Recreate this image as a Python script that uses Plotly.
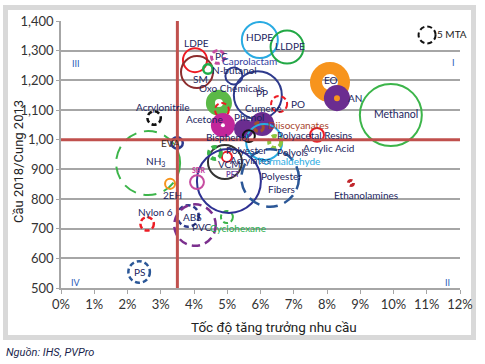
import math
import plotly.graph_objects as go

# ---------------- data ----------------
names = ["LDPE", "SM", "PC", "N-butanol", "Caprolactam", "HDPE", "LLDPE", "PP",
         "Oxo Chemicals", "Acetone", "Bisphenol", "Phenol", "MDI", "Diisocyanates",
         "PO", "Formaldehyde", "Cumene", "Polyols", "Acrylic Acid", "EO", "AN",
         "Methanol", "Acrylonitrile", "NH3", "EVA", "2EH", "Nylon 6", "ABS", "PVC",
         "Cyclohexane", "PS", "Polyester", "VCM", "Acrylates", "PET",
         "Polyester Fibers", "SBR", "Ethanolamines", "5 MTA"]
growth = [4.03, 4.09, 4.72, 4.42, 5.20, 5.98, 6.80, 5.92,
          4.75, 4.84, 4.87, 5.50, 6.05, 5.95,
          6.56, 6.11, 5.65, 6.44, 7.70, 8.09, 8.30,
          9.92, 2.80, 2.62, 3.49, 3.28, 2.59, 3.82, 4.03,
          4.99, 2.35, 4.93, 4.99, 4.63, 5.05,
          6.29, 4.09, 8.72, 11.01]
ratio = [1268, 1228, 1279, 1238, 1215, 1336, 1312, 1150,
         1124, 1100, 1049, 1036, 1053, 1043,
         1120, 992, 1012, 992, 1016, 1194, 1140,
         1083, 1073, 921, 989, 851, 716, 743, 712,
         739, 554, 925, 942, 955, 861,
         871, 857, 854, 1353]
capacity = [9.4, 16.0, 3.5, 2.0, 5.0, 20.0, 17.0, 34.6,
            9.4, 3.5, 8.0, 5.5, 8.0, 2.0,
            4.5, 20.0, 2.7, 3.5, 3.5, 22.2, 9.4,
            56.7, 3.5, 60.3, 2.7, 2.0, 3.5, 8.0, 26.8,
            2.7, 8.0, 17.9, 2.0, 3.5, 60.3,
            49.9, 3.5, 0.9, 5.0]

x_ticks = list(range(0, 13))
x_ticktext = [f"{v}%" for v in x_ticks]
y_ticks = [500, 600, 700, 800, 900, 1000, 1100, 1200, 1300, 1400]
y_ticktext = ["500", "600", "700", "800", "900", "1,00", "1,100", "1,200", "1,300", "1,400"]

# ---------------- styles ----------------
RED, NAVY, GREEN, LBLUE = "#ed1c24", "#2e3a8c", "#3cb54a", "#29abe2"
PURPLE, MAGENTA, ORANGE = "#6b2d90", "#c2269a", "#f7941d"
colors = [RED, "#8c2d2d", "#c64ca0", "#1fae4a", NAVY, LBLUE, "#22a845", NAVY,
          "#5bb947", RED, MAGENTA, PURPLE, PURPLE, "#a0522d",
          RED, LBLUE, "#111111", "#8dc63f", RED, ORANGE, PURPLE,
          GREEN, "#111111", GREEN, NAVY, ORANGE, RED, NAVY, "#7b2f8e",
          GREEN, "#2b5797", "#333333", RED, GREEN, "#2e3192",
          "#2b5797", "#c64ca0", "#c1272d", "#111111"]
kinds = ["solid", "solid", "dash", "solid", "solid", "solid", "solid", "solid",
         "disk", "dash", "disk", "disk", "disk", "dash",
         "dash", "solid", "solid", "dash", "solid", "ring", "disk",
         "solid", "dash", "dash", "solid", "solid", "dash", "dash", "dash",
         "dash", "dash", "solid", "solid", "dash", "solid",
         "dash", "solid", "dash", "dash"]
widths = [2, 2, 3, 2.5, 2, 2, 2, 2,
          0, 2, 0, 0, 0, 3,
          2, 2, 2, 4, 2, 12, 0,
          2, 2.5, 2, 2.5, 2, 2.5, 2.5, 2.5,
          2, 2.5, 2, 2, 4, 2,
          2.5, 2, 3, 2]
centre_dots = {"Oxo Chemicals": ("white", 4), "Bisphenol": ("white", 2), "AN": (ORANGE, 3)}

# labels
lab_text = ["LDPE", "SM", "PC", "Caprolactam", "N-butanol", "HDPE", "LLDPE", "Oxo Chemicals",
            "PP", "PO", "EO", "AN", "Methanol", "5 MTA", "Acrylonitrile", "Acetone", "Cumene",
            "Phenol", "Diisocyanates", "Bisphenol", "Polyacetal Resins", "Acrylic Acid",
            "Polyols", "Polyester", "Acrylates", "Formaldehyde", "VCM", "<b>PET</b>", "<b>SBR</b>",
            "Polyester<br>Fibers", "Ethanolamines", "NH<sub>3</sub>", "EVA", "2EH", "Nylon 6",
            "ABS", "PVC", "Cyclohexane", "PS"]
lab_x = [4.09, 4.21, 4.84, 5.68, 5.23, 5.98, 6.89, 5.14,
         6.05, 7.13, 8.12, 8.84, 10.08, 11.76, 3.04, 4.33, 6.08,
         5.65, 7.13, 5.02, 7.61, 8.03,
         6.95, 5.59, 5.71, 6.86, 5.08, 5.17, 4.15,
         6.62, 9.17, 2.83, 3.28, 3.34, 2.83,
         3.94, 4.24, 5.32, 2.35]
lab_y = [1326, 1204, 1282, 1265, 1235, 1346, 1316, 1174,
         1157, 1120, 1201, 1140, 1087, 1356, 1110, 1070, 1107,
         1076, 1049, 1009, 1016, 972,
         958, 965, 931, 928, 918, 884, 898,
         857, 813, 925, 989, 813, 756,
         739, 706, 702, 554]
LAB = "#1c2560"
lab_color = [LAB] * len(lab_text)
lab_size = [10] * len(lab_text)
for t, c in {"Caprolactam": "#3340a0", "Diisocyanates": "#a8432e", "Formaldehyde": LBLUE,
             "<b>PET</b>": "#6a3fa0", "<b>SBR</b>": "#c2399b", "Cyclohexane": "#1fae4a",
             "EVA": "#3a2a1a", "5 MTA": "#222222"}.items():
    lab_color[lab_text.index(t)] = c
lab_size[lab_text.index("<b>PET</b>")] = 7.5
lab_size[lab_text.index("<b>SBR</b>")] = 7
lab_size[lab_text.index("Methanol")] = 10.5

# ---------------- geometry ----------------
W, H = 485, 364
ML, MR, MT, MB = 61, 25, 21, 76
PW, PH = W - ML - MR, H - MT - MB
XR, YR = (0, 12), (500, 1400)
PX_X = PW / (XR[1] - XR[0])
PX_Y = PH / (YR[1] - YR[0])


def radius_px(cap):
    return 9.5 * math.sqrt(cap / 5.0)


def circle(x, y, r, **kw):
    return dict(type="circle", xref="x", yref="y",
                x0=x - r / PX_X, x1=x + r / PX_X, y0=y - r / PX_Y, y1=y + r / PX_Y, **kw)


shapes = []
for n, x, y, cap, col, k, w in zip(names, growth, ratio, capacity, colors, kinds, widths):
    r = radius_px(cap)
    if k == "disk":
        shapes.append(circle(x, y, r, fillcolor=col, line=dict(width=0)))
        if n in centre_dots:
            dc, dr = centre_dots[n]
            shapes.append(circle(x, y, dr, fillcolor=dc, line=dict(width=0)))
    elif k == "ring":
        shapes.append(circle(x, y, r - w / 2, line=dict(color=col, width=w)))
    else:
        rr = r - w / 2
        if k == "dash":
            circ = 2 * math.pi * rr
            d = max(5.0, 0.065 * circ)
            dash = f"{d:.1f}px,{d * 0.6:.1f}px"
        else:
            dash = "solid"
        shapes.append(circle(x, y, rr, line=dict(color=col, width=w, dash=dash)))

# quadrant dividers
QRED = "#c0504d"
shapes.append(dict(type="line", xref="x", yref="y", x0=0, x1=12, y0=1000, y1=1000,
                   line=dict(color=QRED, width=3)))
shapes.append(dict(type="line", xref="x", yref="y", x0=3.5, x1=3.5, y0=493, y1=1400,
                   line=dict(color=QRED, width=3)))


# outer frame
def px_paper_x(px):
    return (px - ML) / PW


def px_paper_y(py):
    return (MT + PH - py) / PH


shapes.append(dict(type="rect", xref="paper", yref="paper",
                   x0=px_paper_x(5.5), x1=px_paper_x(473.5),
                   y0=px_paper_y(337.5), y1=px_paper_y(7.5),
                   line=dict(color="#d9d9d9", width=5), layer="below"))

annotations = []
for t, x, y, c, s in zip(lab_text, lab_x, lab_y, lab_color, lab_size):
    annotations.append(dict(x=x, y=y, xref="x", yref="y", text=t, showarrow=False,
                            font=dict(family="Lato", size=s, color=c),
                            xanchor="center", yanchor="middle"))

for t, px, py in [("III", 76, 63), ("I", 453, 62), ("IV", 76, 282), ("II", 447, 282)]:
    annotations.append(dict(x=px_paper_x(px), y=px_paper_y(py), xref="paper", yref="paper",
                            text=t, showarrow=False, xanchor="center", yanchor="middle",
                            font=dict(family="Lato", size=9, color="#2b5cb8")))

annotations.append(dict(x=px_paper_x(274), y=px_paper_y(327), xref="paper", yref="paper",
                        text="Tốc độ tăng trưởng nhu cầu", showarrow=False,
                        xanchor="center", yanchor="middle",
                        font=dict(family="Roboto", size=13.5, color="#222222")))
annotations.append(dict(x=px_paper_x(18), y=px_paper_y(162), xref="paper", yref="paper",
                        text="Cầu 2018/Cung 2013", showarrow=False, textangle=-90,
                        xanchor="center", yanchor="middle",
                        font=dict(family="Roboto", size=13, color="#222222")))
annotations.append(dict(x=px_paper_x(4), y=px_paper_y(352), xref="paper", yref="paper",
                        text="<i>Nguồn: IHS, PVPro</i>", showarrow=False,
                        xanchor="left", yanchor="middle",
                        font=dict(family="Roboto", size=11, color="#1a1f4d")))

fig = go.Figure()
# invisible anchor trace so the axes exist
fig.add_trace(go.Scatter(x=growth, y=ratio, mode="markers", marker=dict(opacity=0),
                         hoverinfo="text", text=names, showlegend=False))

fig.update_layout(
    width=W, height=H,
    margin=dict(l=ML, r=MR, t=MT, b=MB),
    paper_bgcolor="white", plot_bgcolor="white",
    shapes=shapes, annotations=annotations, showlegend=False,
    xaxis=dict(range=list(XR), tickvals=x_ticks, ticktext=x_ticktext, showgrid=False,
               zeroline=False, showline=True, linecolor="#a6a6a6", linewidth=1.5,
               ticks="outside", ticklen=4, tickcolor="#a6a6a6",
               tickfont=dict(family="Lato", size=13, color="#333333"), fixedrange=True),
    yaxis=dict(range=list(YR), tickvals=y_ticks, ticktext=y_ticktext, showgrid=True,
               gridcolor="#a6a6a6", gridwidth=1.5, zeroline=False, showline=True,
               linecolor="#a6a6a6", linewidth=1.5, ticks="outside", ticklen=3,
               tickcolor="#a6a6a6", tickfont=dict(family="Lato", size=13, color="#333333"),
               fixedrange=True),
)

fig.write_html("out.html", config={"displayModeBar": False},
               post_script="document.body.style.margin='0';document.body.style.overflow='hidden';")
